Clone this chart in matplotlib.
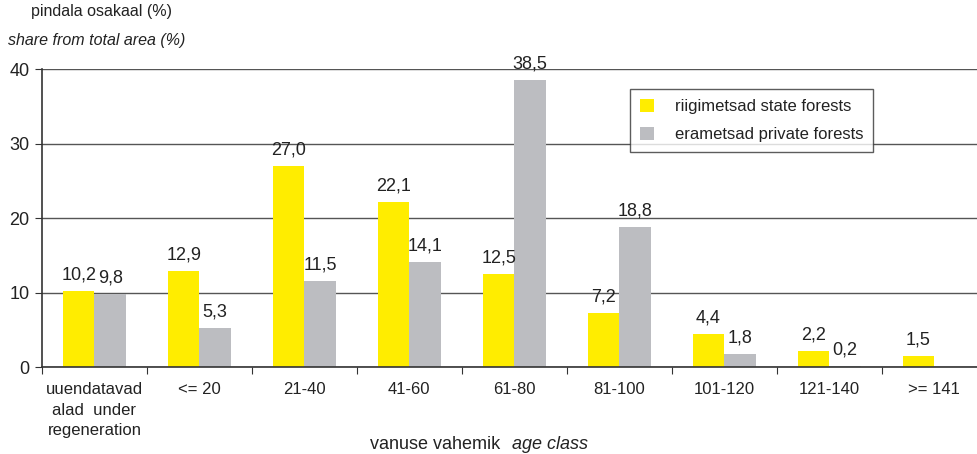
import numpy as np
import matplotlib
matplotlib.use("Agg")
import matplotlib.pyplot as plt

plt.rcParams["font.family"] = ["Liberation Sans", "DejaVu Sans"]

# Age classes and shares (%)
categories = ["uuendatavad\nalad  under\nregeneration", "<= 20", "21-40", "41-60",
              "61-80", "81-100", "101-120", "121-140", ">= 141"]
state = [10.2, 12.9, 27.0, 22.1, 12.5, 7.2, 4.4, 2.2, 1.5]
private = [9.8, 5.3, 11.5, 14.1, 38.5, 18.8, 1.8, 0.2, 0.0]
state_labels = ["10,2", "12,9", "27,0", "22,1", "12,5", "7,2", "4,4", "2,2", "1,5"]
private_labels = ["9,8", "5,3", "11,5", "14,1", "38,5", "18,8", "1,8", "0,2", ""]

yellow = "#FFED00"
grey = "#BCBDC1"
dark = "#333333"

fig = plt.figure(figsize=(9.78, 4.54), dpi=100)
ax = fig.add_axes([0.0429, 0.1916, 0.966, 0.6564])

x = np.arange(len(categories))
w = 0.3
b1 = ax.bar(x - w / 2, state, w, color=yellow, label="riigimetsad state forests", zorder=2)
b2 = ax.bar(x + w / 2, private, w, color=grey, label="erametsad private forests", zorder=2)

for rect, lab in zip(b1, state_labels):
    ax.text(rect.get_x() + rect.get_width() / 2, rect.get_height() + 1.0, lab,
            ha="center", va="bottom", fontsize=13, color="#222222")
for rect, lab in zip(b2, private_labels):
    ax.text(rect.get_x() + rect.get_width() / 2, rect.get_height() + 1.0, lab,
            ha="center", va="bottom", fontsize=13, color="#222222")

ax.set_xlim(-0.5, len(categories) - 0.5)
ax.set_ylim(0, 40)
ax.set_yticks([0, 10, 20, 30, 40])
ax.yaxis.grid(True, color="#555555", linewidth=1.0, zorder=0)
ax.set_axisbelow(True)

# ticks at category boundaries, labels at centres
ax.set_xticks(np.arange(len(categories) + 1) - 0.5)
ax.set_xticklabels([])
ax.set_xticks(x, minor=True)
ax.set_xticklabels(categories, minor=True, fontsize=12, color="#222222", linespacing=1.45)
ax.tick_params(axis="x", which="minor", length=0, pad=11)
ax.tick_params(axis="x", which="major", length=5, color=dark, direction="out")
ax.tick_params(axis="y", length=5, color=dark, labelsize=13, pad=4, labelcolor="#222222")

for s in ["top", "right"]:
    ax.spines[s].set_visible(False)
for s in ["left", "bottom"]:
    ax.spines[s].set_color(dark)
    ax.spines[s].set_linewidth(1.2)

leg = ax.legend(loc="upper left", bbox_to_anchor=(0.6220, 0.933), frameon=True,
                fancybox=False, edgecolor="#333333", fontsize=12,
                handlelength=0.85, handleheight=0.85, handletextpad=1.25,
                borderpad=0.6, labelspacing=0.75, borderaxespad=0)
leg.get_frame().set_linewidth(1.0)
for t in leg.get_texts():
    t.set_color("#222222")

fig.text(0.104, 0.975, "pindala osakaal (%)", ha="center", va="center",
         fontsize=11.5, color="#222222")
fig.text(0.008, 0.91, "share from total area (%)", ha="left", va="center",
         fontsize=11.5, style="italic", color="#222222")
fig.text(0.511, 0.022, "vanuse vahemik", ha="right", va="center",
         fontsize=13, color="#222222")
fig.text(0.524, 0.022, "age class", ha="left", va="center",
         fontsize=13, style="italic", color="#222222")

fig.savefig("out.png", dpi=100)
